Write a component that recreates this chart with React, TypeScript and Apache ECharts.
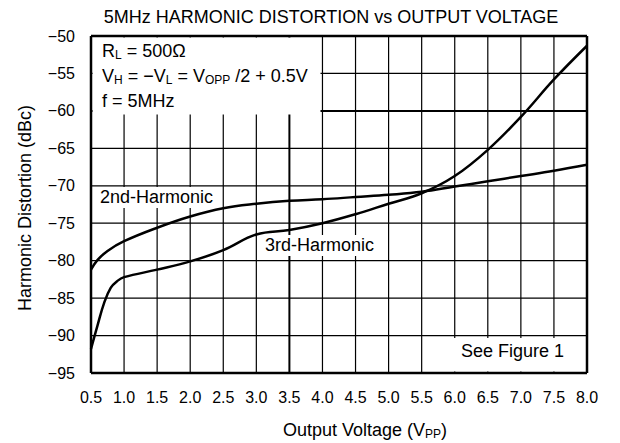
import React, { useEffect, useRef } from "react";
import * as echarts from "echarts";

const xTicks = [0.5, 1.0, 1.5, 2.0, 2.5, 3.0, 3.5, 4.0, 4.5, 5.0, 5.5, 6.0, 6.5, 7.0, 7.5, 8.0];
const yTicks = [-95, -90, -85, -80, -75, -70, -65, -60, -55, -50];

const x2nd = [0.5, 0.6, 0.75, 1.0, 1.5, 2.0, 2.5, 3.0, 3.5, 4.0, 4.5, 5.0, 5.5, 6.0, 6.5, 7.0, 7.5, 8.0];
const harm2nd = [-81.2, -79.9, -78.7, -77.4, -75.6, -74.1, -73.0, -72.4, -72.0, -71.8, -71.5, -71.2, -70.8, -70.1, -69.4, -68.7, -68.0, -67.2];

const x3rd = [0.5, 0.6, 0.7, 0.8, 0.9, 1.0, 1.5, 2.0, 2.5, 3.0, 3.5, 4.0, 4.5, 5.0, 5.5, 6.0, 6.5, 7.0, 7.5, 8.0];
const harm3rd = [-91.8, -88.6, -85.6, -83.6, -82.7, -82.2, -81.2, -80.1, -78.6, -76.5, -75.9, -75.0, -73.8, -72.4, -71.0, -68.7, -65.2, -60.8, -55.8, -51.3];

const FONT = "'Liberation Sans', Arial, sans-serif";

export default function App() {
  const ref = useRef<HTMLDivElement>(null);
  useEffect(() => {
    if (!ref.current) return;
    const chart = echarts.init(ref.current, null, { renderer: "svg" });
    const xMin = xTicks[0];
    const xMax = xTicks[xTicks.length - 1];
    const yMin = yTicks[0];
    const yMax = yTicks[yTicks.length - 1];
    const lbl = { fontSize: 16, color: "#000", fontFamily: FONT };
    const sub = { fontSize: 12, padding: [8, 0, 0, 0], fontFamily: FONT, fill: "#000", color: "#000" };
    const textEl = (x: number, y: number, text: string, extra: any = {}) => ({
      type: "text",
      x,
      y,
      z: 20,
      style: {
        text,
        fontSize: 18,
        fontFamily: FONT,
        fill: "#000",
        verticalAlign: "middle",
        rich: { sub },
        ...extra,
      },
    });
    const rect = (x: number, y: number, w: number, h: number) => ({
      type: "rect",
      z: 10,
      shape: { x, y, width: w, height: h },
      style: { fill: "#fff" },
    });

    // grid and frame lines drawn as line series through the chart's own scales
    const refLine = (pts: number[][], width: number, z: number, clip: boolean) => ({
      type: "line",
      silent: true,
      symbol: "none",
      showSymbol: false,
      clip,
      z,
      lineStyle: { color: "#000", width, type: "solid" },
      data: pts,
    });
    const innerX = xTicks.filter((v) => v !== xMin && v !== xMax);
    const innerY = yTicks.filter((v) => v !== yMin && v !== yMax);
    const gridSeries = [
      ...innerX.map((v) => refLine([[v, yMin], [v, yMax]], v === 3.5 ? 2 : 1.2, 2, true)),
      ...innerY.map((v) => refLine([[xMin, v], [xMax, v]], v === -60 ? 2 : 1.2, 2, true)),
    ];
    const frameSeries = [
      refLine([[xMin, yMin], [xMin, yMax]], 2.5, 30, false),
      refLine([[xMax, yMin], [xMax, yMax]], 2.5, 30, false),
      refLine([[xMin, yMin], [xMax, yMin]], 2.5, 30, false),
      refLine([[xMin, yMax], [xMax, yMax]], 2.5, 30, false),
    ];

    chart.setOption({
      animation: false,
      grid: { left: 91, right: 33, top: 36, bottom: 70 },
      xAxis: {
        type: "value",
        min: xMin,
        max: xMax,
        interval: 0.5,
        position: "bottom",
        axisLine: { show: false },
        axisTick: { show: false },
        axisLabel: { ...lbl, margin: 16, formatter: (v: number) => v.toFixed(1) },
        splitLine: { show: false },
      },
      yAxis: {
        type: "value",
        min: yMin,
        max: yMax,
        interval: 5,
        position: "left",
        axisLine: { show: false },
        axisTick: { show: false },
        axisLabel: { ...lbl, margin: 16, formatter: (v: number) => (v < 0 ? "\u2212" + Math.abs(v) : String(v)) },
        splitLine: { show: false },
      },
      series: [
        ...gridSeries,
        ...frameSeries,
        {
          name: "2nd-Harmonic",
          type: "line",
          smooth: 0.4,
          showSymbol: false,
          symbol: "none",
          z: 25,
          lineStyle: { color: "#000", width: 2.5 },
          data: x2nd.map((x, i) => [x, harm2nd[i]]),
        },
        {
          name: "3rd-Harmonic",
          type: "line",
          smooth: 0.4,
          showSymbol: false,
          symbol: "none",
          z: 25,
          lineStyle: { color: "#000", width: 2.5 },
          data: x3rd.map((x, i) => [x, harm3rd[i]]),
        },
      ],
      graphic: [
        rect(92.5, 37.5, 228, 77),
        rect(93, 187, 127, 21),
        rect(260, 235, 123, 21),
        rect(452, 338, 133, 33.5),
        textEl(331, 17, "5MHz HARMONIC DISTORTION vs OUTPUT VOLTAGE", { align: "center" }),
        textEl(102, 51, "R{sub|L} = 500\u03A9"),
        textEl(102, 76, "V{sub|H} = \u2212V{sub|L} = V{sub|OPP} /2 + 0.5V"),
        textEl(102, 101, "f = 5MHz"),
        textEl(100, 197, "2nd-Harmonic"),
        textEl(265, 245, "3rd-Harmonic"),
        textEl(461, 351, "See Figure 1"),
        textEl(365, 430, "Output Voltage (V{sub|PP})", { align: "center" }),
        {
          ...textEl(25, 208, "Harmonic Distortion (dBc)", { align: "center" }),
          rotation: Math.PI / 2,
        },
      ],
    });
    return () => chart.dispose();
  }, []);
  return <div ref={ref} style={{ position: "absolute", left: 0, top: 0, width: 620, height: 443 }} />;
}
